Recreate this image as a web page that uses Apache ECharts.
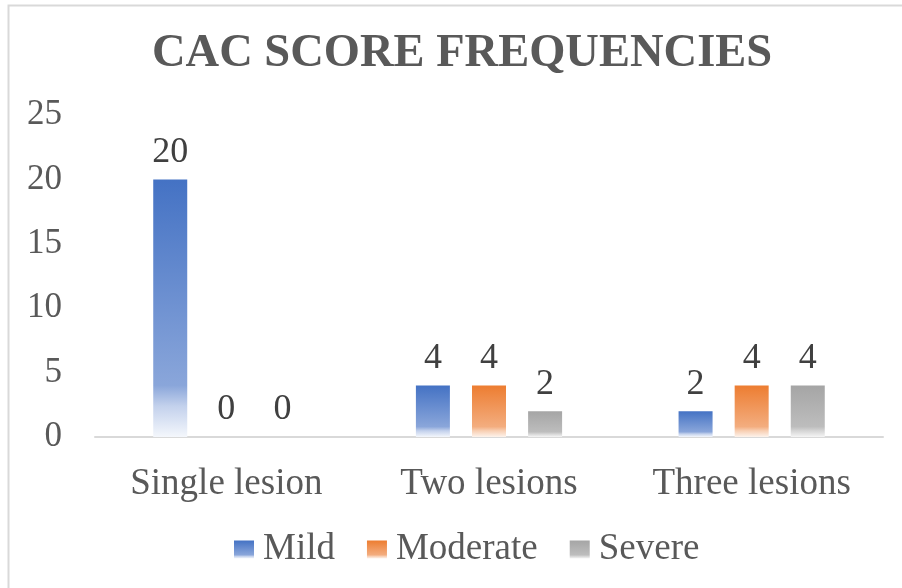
<!DOCTYPE html>
<html><head><meta charset="utf-8">
<script src="https://cdn.jsdelivr.net/npm/echarts@6/dist/echarts.min.js"></script>
<style>html,body{margin:0;padding:0;background:#fff}#c{width:902px;height:588px}</style>
</head><body><div id="c"></div>
<script>
var categories = ['Single lesion', 'Two lesions', 'Three lesions'];
var mild = [20, 4, 2];
var moderate = [0, 4, 4];
var severe = [0, 2, 4];
var yTicks = [0, 5, 10, 15, 20, 25];

function grad(c0, c1, c2, c3) {
  return new echarts.graphic.LinearGradient(0, 0, 0, 1, [
    {offset: 0, color: c0}, {offset: 0.8, color: c1}, {offset: 0.88, color: c2}, {offset: 1, color: c3}
  ]);
}
var FONT = '"Liberation Serif", "Times New Roman", serif';
var chart = echarts.init(document.getElementById('c'), null, {renderer: 'canvas'});
function mk(name, data, g) {
  return {
    name: name, type: 'bar', data: data, barWidth: 34, barGap: '65%',
    itemStyle: {color: g},
    label: {show: true, position: 'top', distance: 9, color: '#404040', fontFamily: FONT, fontSize: 36},
    emphasis: {disabled: true}
  };
}
chart.setOption({
  animation: false,
  graphic: [{type: 'rect', shape: {x: 8.5, y: 5.5, width: 910, height: 600}, style: {fill: null, stroke: '#d9d9d9', lineWidth: 2}, silent: true}],
  title: {text: 'CAC SCORE FREQUENCIES', left: 147, top: 25,
    textStyle: {fontFamily: FONT, fontWeight: 'bold', fontSize: 46.5, color: '#595959'}},
  legend: {bottom: 15, left: 229, itemWidth: 20, itemHeight: 18, itemGap: 32, icon: 'rect',
    textStyle: {fontFamily: FONT, fontSize: 37, color: '#595959', padding: [0, 0, 0, 4]}},
  grid: {left: 95, right: 19, top: 115, bottom: 151},
  xAxis: {type: 'category', data: categories,
    axisLine: {lineStyle: {color: '#d9d9d9', width: 2}}, axisTick: {show: false},
    axisLabel: {color: '#595959', fontFamily: FONT, fontSize: 37, margin: 29}},
  yAxis: {type: 'value', min: yTicks[0], max: yTicks[yTicks.length - 1], interval: 5,
    splitLine: {show: false}, axisLine: {show: false}, axisTick: {show: false},
    axisLabel: {color: '#595959', fontFamily: FONT, fontSize: 35, margin: 33}},
  series: [
    mk('Mild', mild, grad('#4472C4', '#8aa6da', '#c3d1ec', '#f4f7fc')),
    mk('Moderate', moderate, grad('#ED7D31', '#f3ad7f', '#f8cfb3', '#fdf3ec')),
    mk('Severe', severe, grad('#A5A5A5', '#bdbdbd', '#d5d5d5', '#f5f5f5'))
  ]
});
</script></body></html>
